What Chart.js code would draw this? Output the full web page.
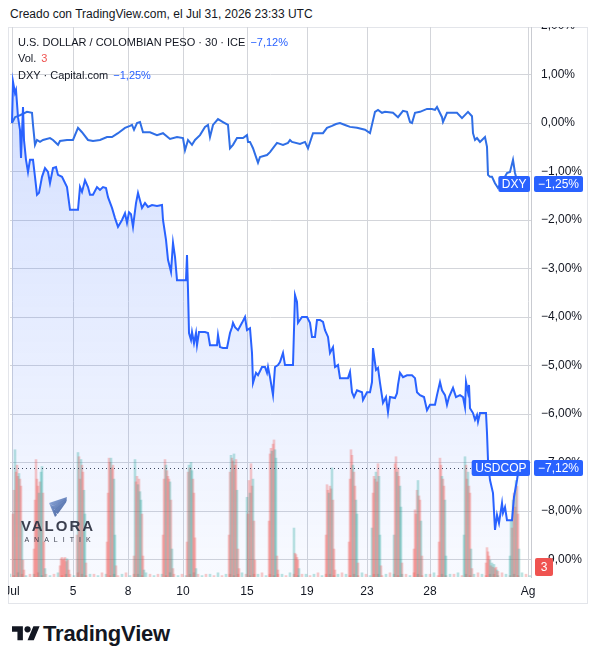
<!doctype html>
<html lang="es">
<head>
<meta charset="utf-8">
<title>USDCOP vs DXY</title>
<style>
  * { margin: 0; padding: 0; }
  body {
    width: 598px; height: 664px; background: #fff; position: relative; overflow: hidden;
    font-family: 'Liberation Sans', Arial, sans-serif; color: #131722;
  }
  .stamp { position: absolute; left: 10px; top: 6px; font-size: 12px; line-height: 16px; white-space: nowrap; }
  .frame { position: absolute; left: 8px; top: 27px; width: 578px; height: 575px; border: 1px solid #e3e5ea; }
  .clip { position: absolute; left: 8px; top: 27px; width: 579px; height: 576px; overflow: hidden; }
  .chartBox { position: absolute; left: 0; top: -7px; width: 579px; height: 583px; }
  .leg { position: absolute; left: 18px; font-size: 11px; line-height: 16px; white-space: nowrap; }
  .leg .blue { color: #2962ff; margin-left: 5px; }
  .leg .red { color: #ef5350; margin-left: 5px; }
  .brand { position: absolute; left: 12px; top: 622px; height: 24px; display: flex; align-items: center; }
  .brand svg { fill: #131722; margin-right: 3px; }
  .brand span { font-size: 22px; font-weight: bold; letter-spacing: -0.2px; }
</style>
</head>
<body>
  <div class="stamp">Creado con TradingView.com, el Jul 31, 2026 23:33 UTC</div>
  <div class="frame"></div>
  <div class="clip">
    <div class="chartBox"><canvas id="myChart"></canvas></div>
  </div>
  <div class="leg" style="top:34px">U.S. DOLLAR / COLOMBIAN PESO · 30 · ICE<span class="blue" id="copLast"></span></div>
  <div class="leg" style="top:50px">Vol.<span class="red" id="volLast"></span></div>
  <div class="leg" style="top:67px">DXY · Capital.com<span class="blue" id="dxyLast"></span></div>
  <div class="brand">
    <svg width="28" height="22" viewBox="0 0 36 28"><path d="M14 22H7V11H0V4h14v18zM28 22h-8l7.5-18h8L28 22z"/><circle cx="20" cy="8" r="4"/></svg>
    <span>TradingView</span>
  </div>

  <script src="https://cdn.jsdelivr.net/npm/chart.js/dist/chart.umd.min.js"></script>
  <script>
    // time axis in 30-minute bar positions, labels where TradingView puts them
    const dayTicks = [2, 63, 118, 173, 237, 297, 357, 420, 518];
    const dayLabels = ['Jul', '5', '8', '10', '15', '19', '23', '28', 'Ag'];

    // USD/COP, % change from start
    const copX = [2, 3, 5, 6, 8, 10, 11, 13, 14, 16,
      18, 20, 23, 25, 27, 29, 32, 35, 38, 40,
      43, 46, 48, 52, 57, 60, 68, 70, 72, 75,
      78, 80, 83, 87, 90, 93, 96, 98, 102, 105,
      108, 112, 115, 117, 119, 121, 123, 126, 128, 132,
      135, 138, 142, 147, 152, 153, 156, 158, 161, 163,
      165, 167, 176, 177, 178, 179, 181, 182, 184, 186,
      187, 189, 195, 198, 200, 207, 208, 210, 213, 217,
      220, 222, 223, 225, 228, 232, 235, 237, 240, 242,
      243, 246, 248, 252, 255, 257, 258, 260, 263, 265,
      268, 270, 273, 275, 283, 285, 287, 288, 292, 297,
      300, 302, 305, 307, 310, 313, 315, 318, 320, 323,
      325, 328, 330, 338, 340, 342, 344, 347, 352, 353,
      357, 360, 362, 363, 366, 368, 370, 373, 376, 378,
      380, 385, 387, 388, 390, 393, 397, 402, 405, 407,
      410, 414, 417, 420, 425, 427, 430, 432, 435, 437,
      439, 443, 446, 450, 453, 455, 456, 458, 459, 460,
      463, 465, 467, 468, 470, 476, 477, 478, 480, 483,
      485, 487, 489, 492, 493, 495, 497, 502, 504, 507,
      509, 510];
    const copPct = [0, 0.85, 0.62, 0.68, 0.12, -0.14, -0.72, 0.33, -0.35, -0.76,
      -1.01, -0.76, -0.76, -1.11, -1.48, -1.44, -1.11, -0.93, -1.01, -1.24,
      -0.93, -0.91, -1.07, -1.11, -1.32, -1.79, -1.79, -1.32, -1.42, -1.18,
      -1.32, -1.48, -1.48, -1.32, -1.38, -1.32, -1.34, -1.53, -1.75, -1.96,
      -2.14, -2.00, -1.86, -2.06, -1.84, -1.88, -2.14, -1.65, -1.44, -1.75,
      -1.65, -1.73, -1.69, -1.71, -1.69, -2.00, -2.41, -2.82, -3.07, -2.47,
      -2.76, -3.24, -3.24, -2.72, -3.44, -4.33, -4.47, -4.31, -4.54, -4.33,
      -4.58, -4.31, -4.31, -4.33, -4.58, -4.58, -4.37, -4.62, -4.64, -4.64,
      -4.33, -4.21, -4.12, -4.21, -4.27, -4.12, -4.00, -4.27, -4.23, -4.74,
      -5.36, -5.15, -5.20, -5.03, -5.03, -5.15, -5.03, -5.24, -5.61, -5.03,
      -4.99, -4.93, -4.74, -4.99, -4.99, -3.55, -3.69, -4.12, -4.00, -4.00,
      -4.12, -4.41, -4.41, -4.06, -4.06, -4.10, -4.27, -4.41, -4.74, -4.62,
      -5.03, -4.99, -5.26, -5.26, -5.13, -5.55, -5.65, -5.51, -5.55, -5.71,
      -5.55, -5.55, -5.34, -4.64, -5.09, -5.05, -5.36, -5.77, -5.65, -5.96,
      -5.65, -5.67, -5.57, -5.40, -5.15, -5.24, -5.20, -5.20, -5.26, -5.55,
      -5.61, -5.65, -5.92, -5.81, -5.81, -5.61, -5.34, -5.51, -5.61, -5.81,
      -5.65, -5.46, -5.65, -5.61, -5.65, -5.86, -5.34, -5.55, -5.40, -5.88,
      -5.98, -6.12, -6.02, -6.16, -5.98, -5.98, -6.39, -6.95, -7.36, -7.63,
      -8.39, -8.08, -8.25, -7.84, -8.04, -7.92, -8.19, -8.19, -7.71, -7.36,
      -7.09, -7.12];

    // DXY, % change from start
    const dxyX = [2, 5, 10, 17, 22, 23, 25, 27, 30, 33,
      40, 43, 48, 50, 57, 63, 68, 72, 78, 83,
      90, 97, 102, 108, 115, 120, 122, 124, 127, 130,
      133, 140, 147, 153, 160, 167, 173, 175, 178, 182,
      185, 190, 195, 198, 200, 203, 208, 213, 218, 220,
      223, 227, 233, 237, 238, 240, 243, 247, 248, 250,
      257, 260, 263, 267, 273, 278, 280, 282, 290, 295,
      298, 303, 313, 317, 322, 326, 330, 335, 340, 347,
      355, 360, 365, 368, 372, 375, 383, 388, 393, 397,
      400, 402, 405, 410, 417, 422, 425, 427, 432, 433,
      437, 447, 452, 458, 462, 463, 465, 467, 470, 475,
      477, 478, 480, 482, 485, 488, 493, 497, 500, 503,
      505, 508];
    const dxyPct = [0, 0.12, 0.16, 0.23, 0.21, -0.04, -0.45, -0.35, -0.39, -0.35,
      -0.31, -0.35, -0.45, -0.37, -0.35, -0.35, -0.10, -0.19, -0.35, -0.37,
      -0.35, -0.29, -0.29, -0.21, -0.10, -0.06, -0.04, -0.14, 0, 0.02,
      -0.19, -0.19, -0.25, -0.21, -0.33, -0.29, -0.31, -0.56, -0.35, -0.45,
      -0.35, -0.25, -0.08, -0.04, -0.29, -0.04, 0.08, 0.02, -0.04, -0.52,
      -0.45, -0.31, -0.31, -0.25, -0.39, -0.39, -0.52, -0.76, -0.82, -0.70,
      -0.66, -0.60, -0.52, -0.41, -0.45, -0.41, -0.35, -0.39, -0.43, -0.39,
      -0.52, -0.21, -0.21, -0.10, -0.06, -0.02, 0, -0.04, -0.08, -0.10,
      -0.14, -0.21, 0.23, 0.27, 0.21, 0.23, 0.21, 0.12, 0.25, 0.23,
      0.02, 0, 0.21, 0.23, 0.29, 0.29, 0.27, 0.33, 0.12, 0.02,
      0.21, 0.21, 0.10, 0.23, 0.14, -0.21, -0.35, -0.31, -0.39, -0.29,
      -0.49, -1.07, -1.11, -1.11, -1.24, -1.34, -1.18, -1.03, -1.01, -0.76,
      -1.03, -1.25];

    // volume: one block per trading session (first bar position, bar volumes, u = up / d = down)
    const sessionStart = [3, 24, 50, 67, 97, 124, 153, 177, 219, 237, 259, 284, 316, 339, 362, 384, 404, 429, 454, 476, 500];
    const sessionVolume = [
      [45, 62, 91, 75, 80, 72, 74, 70, 65, 40, 12, 5],
      [20, 55, 84, 70, 65, 60, 68, 75, 79, 60, 25, 6],
      [8, 13, 14, 12, 13, 14, 11, 13, 12, 5],
      [30, 89, 86, 70, 84, 80, 75, 62, 45, 10],
      [25, 60, 85, 82, 85, 78, 80, 70, 30, 8],
      [15, 84, 68, 72, 66, 70, 61, 55, 45, 15, 5],
      [30, 70, 84, 80, 76, 72, 70, 68, 55, 20, 6],
      [25, 75, 80, 78, 82, 76, 70, 60, 28, 6],
      [30, 75, 87, 85, 83, 88, 80, 84, 62, 20, 6],
      [57, 45, 69, 60, 81, 65, 70, 40, 12],
      [40, 88, 92, 90, 95, 98, 91, 85, 15, 5],
      [35, 17, 16, 14, 12, 6],
      [30, 66, 62, 60, 65, 63, 78, 55, 20, 5],
      [25, 70, 91, 87, 80, 75, 65, 55, 45, 10],
      [35, 60, 72, 70, 75, 68, 81, 72, 30, 8],
      [30, 81, 86, 75, 78, 72, 65, 50, 10],
      [20, 48, 45, 62, 69, 58, 55, 40, 15],
      [25, 85, 80, 72, 70, 65, 55, 15],
      [30, 86, 80, 70, 75, 65, 60, 20, 6],
      [10, 21, 18, 15, 12, 8, 10, 7, 9, 6, 7, 5, 4],
      [15, 40, 35, 55, 60, 50, 69, 65, 45, 20]
    ];
    const sessionDir = ['dduddduddudd', 'ddddduduuddu', 'dddddddudd', 'duddudduud', 'ddddudduud',
      'dudduduuddu', 'dddudddudud', 'dduduudddu', 'ddudduddudd', 'udduddudd', 'dddudduudd',
      'uddddu', 'dddudduddd', 'ddddudduud', 'udddudduud', 'uddudduud', 'dddduddud',
      'dddudduu', 'uudduddud', 'ddddudududdud', 'uududduddu'];
    // thin off-hours volume, one bar every 4 positions
    const quietVolume = [2, 1, 3, 2, 1, 2, 2, 3, 1, 2, 1, 2, 3, 1, 2, 2, 1, 3, 2, 1,
      2, 2, 1, 3, 2, 1, 2, 1, 2, 3, 1, 2, 2, 1, 3, 2, 1, 2, 2, 1,
      3, 2, 1, 2, 1, 2, 3, 2, 1, 2, 2, 1, 3, 1, 2, 2, 1, 2, 3, 2,
      1, 2, 2, 3, 1, 2, 1, 2, 2, 1, 3, 2, 1, 2, 2, 1, 2, 3, 1, 2,
      2, 1, 2, 3, 2, 1, 2, 1, 3, 2, 1, 2, 2, 1, 2, 3, 2, 1, 2, 2,
      1, 3, 2, 1, 2, 2, 3, 1, 2, 1, 2, 2, 3, 1, 2, 1, 2, 3, 2, 1,
      2, 2, 1, 3, 2, 1, 2, 1, 3, 2, 1];
    const lastVolume = 3;

    const upColor = 'rgba(38, 166, 154, 0.3)';
    const downColor = 'rgba(239, 83, 80, 0.3)';
    const gridColor = '#d3d5da';
    const blue = '#2962ff';

    const fmtPct = v => (v < -0.0001 ? '\u2212' : '') + Math.abs(v).toFixed(2).replace('.', ',') + '%';

    // build points
    const copPoints = copX.map((x, i) => ({ x, y: copPct[i] }));
    const dxyPoints = dxyX.map((x, i) => ({ x, y: dxyPct[i] }));

    const volPoints = [];
    const volColors = [];
    quietVolume.forEach((v, i) => {
      volPoints.push({ x: i * 4, y: v });
      volColors.push(i % 2 ? downColor : upColor);
    });
    sessionStart.forEach((start, s) => {
      sessionVolume[s].forEach((v, j) => {
        volPoints.push({ x: start + j, y: v });
        volColors.push(sessionDir[s][j] === 'u' ? upColor : downColor);
      });
    });

    const lastCop = copPct[copPct.length - 1];
    const lastDxy = dxyPct[dxyPct.length - 1];
    document.getElementById('copLast').textContent = fmtPct(lastCop);
    document.getElementById('dxyLast').textContent = fmtPct(lastDxy);
    document.getElementById('volLast').textContent = lastVolume;

    Chart.defaults.font.family = "'Liberation Sans', Arial, sans-serif";
    Chart.defaults.font.size = 12;
    Chart.defaults.color = '#131722';

    function roundBox(ctx, x, y, w, h, color) {
      ctx.fillStyle = color;
      ctx.beginPath();
      ctx.roundRect(x, y, w, h, 2);
      ctx.fill();
    }

    // Valora watermark, drawn over the volume
    const watermark = {
      id: 'watermark',
      afterDatasetsDraw(chart) {
        const { ctx, chartArea: { left, bottom } } = chart;
        const cx = left + 47, cy = bottom - 50;
        ctx.save();
        ctx.globalAlpha = 0.92;
        const g = ctx.createLinearGradient(cx - 8, cy - 30, cx + 10, cy - 10);
        g.addColorStop(0, '#8aa6dc');
        g.addColorStop(1, '#2f4f8f');
        ctx.fillStyle = g;
        for (let k = 0; k < 3; k++) {
          const o = k * 4;
          ctx.beginPath();
          ctx.moveTo(cx - 8 + o * 0.5, cy - 24 + o);
          ctx.lineTo(cx + 10, cy - 30 + o * 0.3);
          ctx.lineTo(cx + 9, cy - 27 + o * 0.3);
          ctx.lineTo(cx - 4 + o * 0.6, cy - 21 + o);
          ctx.closePath();
          ctx.fill();
        }
        ctx.beginPath();
        ctx.moveTo(cx - 8, cy - 24);
        ctx.lineTo(cx - 2, cy - 10);
        ctx.lineTo(cx, cy - 12);
        ctx.lineTo(cx - 4, cy - 21);
        ctx.closePath();
        ctx.fill();
        ctx.fillStyle = '#2b3040';
        ctx.textAlign = 'center';
        ctx.textBaseline = 'middle';
        ctx.font = 'bold 15px "Liberation Sans", Arial, sans-serif';
        ctx.letterSpacing = '2px';
        ctx.fillText('VALORA', cx + 1, cy);
        ctx.font = '7px "Liberation Sans", Arial, sans-serif';
        ctx.letterSpacing = '5px';
        ctx.fillText('ANALITIK', cx + 3, cy + 13);
        ctx.restore();
      }
    };

    // last-value price line and scale labels
    const priceLabels = {
      id: 'priceLabels',
      afterDraw(chart) {
        const { ctx, chartArea: { left, right, bottom } } = chart;
        const y = chart.scales.y;
        ctx.save();
        ctx.font = '12px "Liberation Sans", Arial, sans-serif';
        ctx.textBaseline = 'middle';
        ctx.textAlign = 'center';

        const rows = [
          { name: 'DXY', value: lastDxy },
          { name: 'USDCOP', value: lastCop, line: true }
        ];
        rows.forEach(r => {
          const py = Math.round(y.getPixelForValue(r.value));
          const w = ctx.measureText(r.name).width + 7;
          const bx = right - 1 - w;
          if (r.line) {
            ctx.strokeStyle = '#3c4660';
            ctx.lineWidth = 1;
            ctx.setLineDash([1, 3]);
            ctx.beginPath();
            ctx.moveTo(left, py + 0.5);
            ctx.lineTo(bx, py + 0.5);
            ctx.stroke();
            ctx.setLineDash([]);
          }
          roundBox(ctx, bx, py - 8, w, 16, blue);
          roundBox(ctx, right + 3, py - 8, 49, 16, blue);
          ctx.fillStyle = '#fff';
          ctx.fillText(r.name, bx + w / 2, py + 1);
          ctx.fillText(fmtPct(r.value), right + 3 + 24.5, py + 1);
        });

        roundBox(ctx, right + 4, bottom - 19, 18, 18, '#ef5350');
        ctx.fillStyle = '#fff';
        ctx.fillText(String(lastVolume), right + 13, bottom - 9);
        ctx.restore();
      }
    };

    const config = {
      type: 'line',
      data: {
        datasets: [
          {
            label: 'USDCOP',
            data: copPoints,
            borderColor: blue,
            borderWidth: 2,
            pointRadius: 0,
            tension: 0,
            fill: 'start',
            backgroundColor: (c) => {
              const area = c.chart.chartArea;
              if (!area) return 'rgba(41, 98, 255, 0.15)';
              const g = c.chart.ctx.createLinearGradient(0, area.top, 0, area.bottom);
              g.addColorStop(0, 'rgba(41, 98, 255, 0.22)');
              g.addColorStop(1, 'rgba(41, 98, 255, 0.03)');
              return g;
            },
            order: 1
          },
          {
            label: 'DXY',
            data: dxyPoints,
            borderColor: '#2f6ee6',
            borderWidth: 2,
            pointRadius: 0,
            tension: 0,
            fill: false,
            order: 2
          },
          {
            type: 'bar',
            label: 'Vol',
            data: volPoints,
            yAxisID: 'yv',
            backgroundColor: volColors,
            borderWidth: 0,
            barThickness: 2,
            grouped: false,
            order: 3
          }
        ]
      },
      options: {
        responsive: true,
        maintainAspectRatio: false,
        animation: false,
        events: [],
        layout: { padding: { left: 2, top: 6, right: 0, bottom: 0 } },
        plugins: {
          legend: { display: false },
          tooltip: { enabled: false },
          filler: { drawTime: 'beforeDatasetsDraw' }
        },
        scales: {
          x: {
            type: 'linear',
            min: 0,
            max: 521,
            offset: false,
            afterBuildTicks: s => { s.ticks = dayTicks.map(v => ({ value: v })); },
            afterFit: s => { s.height = 26; s.paddingLeft = 0; s.paddingRight = 0; },
            ticks: {
              autoSkip: false,
              maxRotation: 0,
              padding: 7,
              callback: (v, i) => dayLabels[i]
            },
            grid: { color: gridColor, drawTicks: false, offset: false },
            border: { display: false }
          },
          y: {
            position: 'right',
            min: -9.36,
            max: 2,
            afterFit: s => { s.width = 56; s.paddingTop = 0; s.paddingBottom = 0; },
            ticks: {
              stepSize: 1,
              includeBounds: false,
              padding: 10,
              callback: v => fmtPct(v)
            },
            grid: { color: gridColor, drawTicks: false },
            border: { display: true, color: '#c9cbd1' }
          },
          yv: {
            display: false,
            min: 0,
            max: 394
          }
        }
      },
      plugins: [watermark, priceLabels]
    };

    const myChart = new Chart(document.getElementById('myChart'), config);
  </script>
</body>
</html>
